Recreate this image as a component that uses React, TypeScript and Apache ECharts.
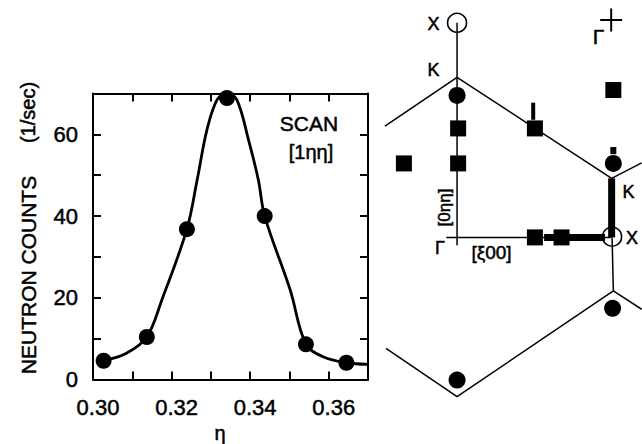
import React, { useEffect, useRef } from "react";
import * as echarts from "echarts";

// ---- Left panel: scan data ----
const etaPoints = [0.3027, 0.3137, 0.3239, 0.3341, 0.3437, 0.3542, 0.3645];
const countPoints = [4.6, 10.4, 36.8, 68.9, 40.0, 8.6, 4.1];
// fitted curve
const curveEta = [0.3027, 0.3085, 0.3137, 0.3175, 0.3239, 0.3265, 0.329, 0.3316, 0.3341, 0.3366, 0.3396, 0.3421, 0.3437, 0.3502, 0.3542, 0.3587, 0.3645, 0.37];
const curveCount = [4.6, 6.4, 10.4, 19.4, 36.8, 48.8, 61.1, 68.5, 70.0, 68.5, 58.6, 48.8, 40.0, 21.9, 8.6, 5.5, 4.1, 3.7];
const xTickLabels = ["0.30", "0.32", "0.34", "0.36"];
const yTickLabels = [0, 20, 40, 60];

// ---- Right panel: reciprocal-space diagram (units of 2π/a; x along [ξ00], y along [0ηη]) ----
const upperZone = [[-0.468, 0.722], [0, 1.038], [1.003, 0.383], [1.198, 0.484]];
const lowerZone = [[-0.461, -0.719], [0, -1.033], [1.014, -0.346], [1.198, -0.466]];
const axis0nn = [[0, -0.05], [0, 1.392]];
const axisX00 = [[-0.07, 0], [1.0, 0]];
const lineXtoZone = [[1.006, 0], [1.014, -0.346]];
const thickKX = [[1.003, 0.383], [1.003, 0]];
const thickX00 = [[0.565, 0], [0.96, 0]];
const spikeA = [[0.494, 0.763], [0.494, 0.874]];
const spikeB = [[1.014, 0.54], [1.014, 0.586]];
const openCircles = [[0, 1.392], [1.006, 0.005]];
const filledCircles = [[0, 0.921], [1.014, 0.48], [1.009, -0.46], [0, -0.925]];
const squares = [[0.007, 0.707], [0.007, 0.48], [-0.345, 0.48], [0.505, 0.707], [1.014, 0.956], [0.505, 0], [0.678, 0]];
const gammaPlus = [[1.0, 1.41]];

const FONT = "'Liberation Sans', Arial, Helvetica, sans-serif";

export default function App() {
  const ref = useRef<HTMLDivElement>(null);
  useEffect(() => {
    if (!ref.current) return;
    const chart = echarts.init(ref.current, undefined, { renderer: "svg" });
    const black = "#000";
    const heavy = { textBorderColor: black, textBorderWidth: 0.5 };
    const lineSeries = (data: number[][], width: number) => ({
      type: "line",
      xAxisIndex: 2,
      yAxisIndex: 2,
      data,
      symbol: "none",
      clip: false,
      lineStyle: { color: black, width },
      silent: true,
    });
    const frameAxis = {
      axisLine: { show: true, onZero: false, lineStyle: { color: black, width: 2 } },
      axisTick: { show: true, inside: true, length: 8, lineStyle: { color: black, width: 2 } },
      splitLine: { show: false },
    };
    const txt = (x: number, y: number, text: string, size: number, rotation = 0) => ({
      type: "text", x, y, rotation,
      style: { text, font: `${size}px ${FONT}`, fill: black, align: "center", verticalAlign: "middle", stroke: black, lineWidth: 0.5 },
    });
    const option: any = {
      animation: false,
      backgroundColor: "#fff",
      textStyle: { fontFamily: FONT, color: black },
      grid: [
        { left: 93, top: 93.5, width: 275, height: 286 },
        { left: 380, top: 0, width: 262, height: 444 },
      ],
      xAxis: [
        {
          type: "value", gridIndex: 0, position: "bottom", min: 0.3, max: 0.37, interval: 0.01,
          ...frameAxis,
          axisLabel: {
            color: black, fontSize: 22, fontFamily: FONT, margin: 17, padding: [0, 0, 0, 10], ...heavy,
            formatter: (v: number) => {
              const s = v.toFixed(2);
              return xTickLabels.includes(s) ? s : "";
            },
          },
        },
        {
          type: "value", gridIndex: 0, position: "top", min: 0.3, max: 0.37, interval: 0.01,
          ...frameAxis,
          axisLabel: { show: false },
        },
        { type: "value", gridIndex: 1, min: -0.5, max: 1.2, show: false },
      ],
      yAxis: [
        {
          type: "value", gridIndex: 0, position: "left", min: 0, max: 70, interval: 10,
          ...frameAxis,
          axisLabel: {
            color: black, fontSize: 22, fontFamily: FONT, margin: 15, ...heavy,
            formatter: (v: number) => (yTickLabels.includes(Math.round(v)) ? String(Math.round(v)) : ""),
          },
        },
        {
          type: "value", gridIndex: 0, position: "right", min: 0, max: 70, interval: 10,
          ...frameAxis,
          axisLabel: { show: false },
        },
        { type: "value", gridIndex: 1, min: -1.34, max: 1.54, show: false },
      ],
      series: [
        {
          type: "line", xAxisIndex: 0, yAxisIndex: 0,
          data: curveEta.map((e, i) => [e, curveCount[i]]),
          smooth: 0.35, symbol: "none", clip: false,
          lineStyle: { color: black, width: 2.8 },
        },
        {
          type: "scatter", xAxisIndex: 0, yAxisIndex: 0,
          data: etaPoints.map((e, i) => [e, countPoints[i]]),
          symbolSize: 16, clip: false, itemStyle: { color: black, opacity: 1 },
        },
        lineSeries(upperZone, 1.5),
        lineSeries(lowerZone, 1.5),
        lineSeries(axis0nn, 1.5),
        lineSeries(axisX00, 1.5),
        lineSeries(lineXtoZone, 1.5),
        lineSeries(thickKX, 7),
        lineSeries(thickX00, 7),
        lineSeries(spikeA, 4),
        lineSeries(spikeB, 6),
        {
          type: "scatter", xAxisIndex: 2, yAxisIndex: 2, data: squares,
          symbol: "rect", symbolSize: 16, clip: false, itemStyle: { color: black, opacity: 1 },
        },
        {
          type: "scatter", xAxisIndex: 2, yAxisIndex: 2, data: filledCircles,
          symbol: "circle", symbolSize: 17, clip: false, itemStyle: { color: black, opacity: 1 },
        },
        {
          type: "scatter", xAxisIndex: 2, yAxisIndex: 2, data: openCircles,
          symbol: "circle", symbolSize: 19, clip: false,
          itemStyle: { color: "#fff", borderColor: black, borderWidth: 1.6, opacity: 1 },
        },
        {
          type: "scatter", xAxisIndex: 2, yAxisIndex: 2, data: gammaPlus,
          symbol: "path://M9.1,0 H10.9 V9.1 H20 V10.9 H10.9 V20 H9.1 V10.9 H0 V9.1 H9.1 Z",
          symbolSize: [22, 23], clip: false, itemStyle: { color: black, opacity: 1 },
        },
      ],
      graphic: [
        txt(28, 275, "NEUTRON COUNTS", 21, Math.PI / 2),
        txt(28, 112.5, "(1/sec)", 20, Math.PI / 2),
        txt(220, 433, "η", 20),
        txt(309, 123.5, "SCAN", 21),
        txt(311, 152, "[1ηη]", 20),
        txt(433.5, 23.5, "X", 18),
        txt(433.5, 70, "K", 18),
        txt(440, 248, "Γ", 18),
        txt(491.5, 252, "[ξ00]", 19),
        txt(444, 207.5, "[0ηη]", 17, Math.PI / 2),
        txt(628.5, 191.5, "K", 18),
        txt(632, 237.5, "X", 18),
        txt(598.5, 36.5, "Γ", 21),
      ],
    };
    chart.setOption(option);
    return () => chart.dispose();
  }, []);
  return <div ref={ref} style={{ position: "fixed", left: 0, top: 0, width: 642, height: 444, background: "#fff" }} />;
}
